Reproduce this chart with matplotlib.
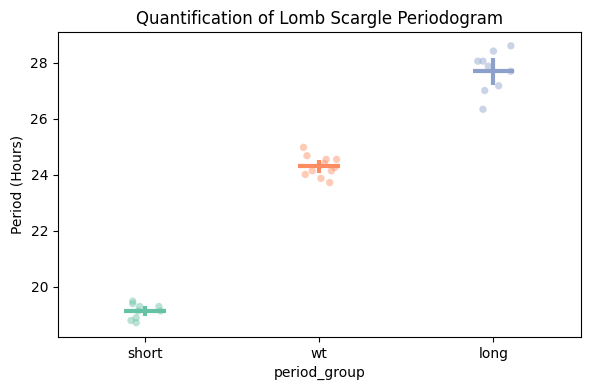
import numpy as np
import matplotlib
matplotlib.use("Agg")
import matplotlib.pyplot as plt

# groups and periods
groups = ["short", "wt", "long"]
colors = ["#66c2a5", "#fc8d62", "#8da0cb"]

short_period = [19.48, 19.39, 19.29, 19.29, 19.13, 19.13, 18.89, 18.79, 18.71]
wt_period = [24.98, 24.68, 24.55, 24.55, 24.40, 24.26, 24.14, 24.14, 24.01, 23.87, 23.72]
long_period = [28.61, 28.42, 28.06, 28.06, 27.88, 27.70, 27.18, 27.01, 26.34]

# horizontal jitter of each point (category units)
short_jit = [-0.07, -0.07, -0.03, 0.08, 0.09, -0.04, -0.05, -0.08, -0.05]
wt_jit = [-0.09, -0.07, 0.04, 0.10, 0.03, 0.09, 0.07, -0.04, -0.08, 0.01, 0.06]
long_jit = [0.10, 0.0, -0.09, -0.06, -0.03, 0.10, 0.03, -0.05, -0.06]

periods = [short_period, wt_period, long_period]
jitters = [short_jit, wt_jit, long_jit]

fig, ax = plt.subplots(figsize=(5.9, 3.9), dpi=100)
fig.subplots_adjust(left=0.098, right=0.984, top=0.917, bottom=0.136)

for i, (vals, jit, c) in enumerate(zip(periods, jitters, colors)):
    vals = np.array(vals)
    ax.scatter(i + np.array(jit), vals, s=28, color=c, alpha=0.45,
               edgecolors="none", zorder=2)
    m = vals.mean()
    ci = 1.96 * vals.std(ddof=1) / np.sqrt(len(vals))
    ax.hlines(m, i - 0.12, i + 0.12, color=c, lw=3, zorder=3)
    ax.vlines(i, m - ci, m + ci, color=c, lw=3, zorder=3)

ax.set_xticks(range(len(groups)))
ax.set_xticklabels(groups)
ax.set_xlim(-0.5, 2.5)
ax.set_ylim(18.2, 29.09)
ax.set_xlabel("period_group")
ax.set_ylabel("Period (Hours)")
ax.set_title("Quantification of Lomb Scargle Periodogram")

plt.savefig("out.png", dpi=100)
